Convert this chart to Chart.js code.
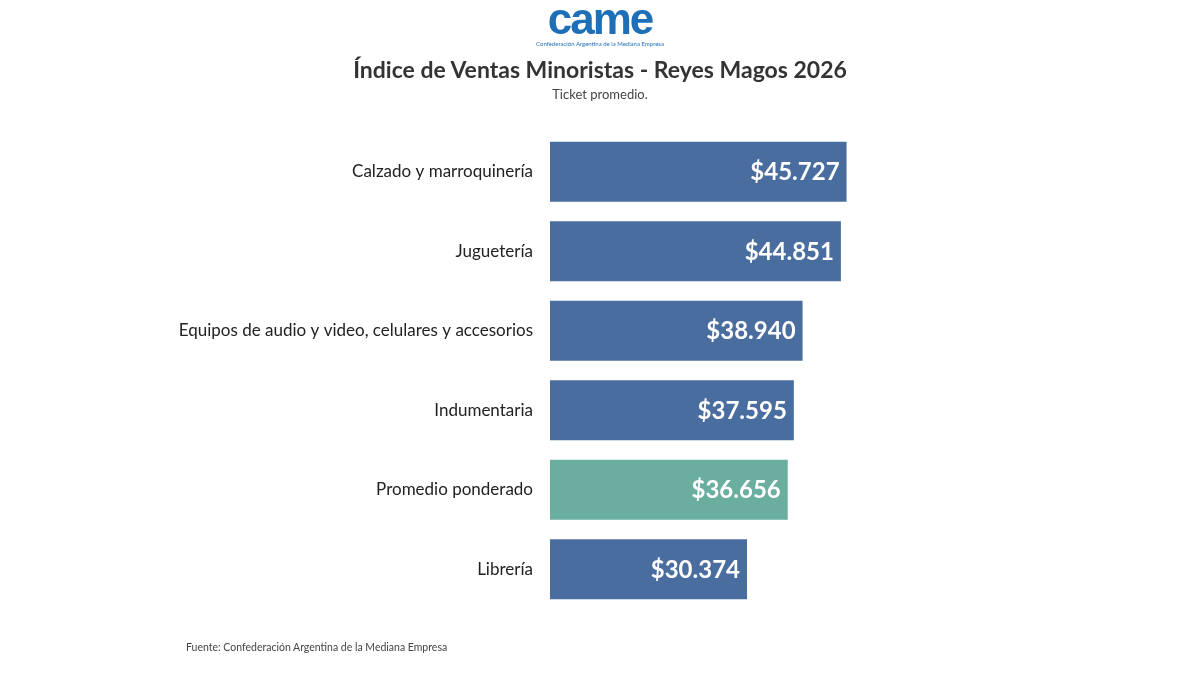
<!DOCTYPE html>
<html><head><meta charset="utf-8">
<script src="https://cdn.jsdelivr.net/npm/chart.js@4"></script>
<style>
body{margin:0;background:#fff;font-family:Lato,sans-serif;}
#wrap{position:relative;width:1200px;height:675px;}
canvas{position:absolute;left:0;top:0;}
.t{position:absolute;left:0;width:1200px;text-align:center;}
</style></head><body>
<div id="wrap">
<canvas id="c" width="1200" height="675"></canvas>
<div class="t" style="top:-6px;font:bold 44px Arial,sans-serif;color:#1d6fb8;letter-spacing:-2px;">came</div>
<div class="t" style="top:40px;font:6px Lato,sans-serif;color:#1d6fb8;">Confederación Argentina de la Mediana Empresa</div>
<div class="t" style="top:55px;font:bold 23px Lato,sans-serif;color:#333;">Índice de Ventas Minoristas - Reyes Magos 2026</div>
<div class="t" style="top:86px;font:13px Lato,sans-serif;color:#444;">Ticket promedio.</div>
<div style="position:absolute;left:186px;top:641px;font:10.5px Lato,sans-serif;color:#444;">Fuente: Confederación Argentina de la Mediana Empresa</div>
</div>
<script>
const categories = ["Calzado y marroquinería","Juguetería","Equipos de audio y video, celulares y accesorios","Indumentaria","Promedio ponderado","Librería"];
const values = [45727,44851,38940,37595,36656,30374];
const valueLabels = ["$45.727","$44.851","$38.940","$37.595","$36.656","$30.374"];
const colors = categories.map(c => c === "Promedio ponderado" ? "#69ae9f" : "#4a6d9f");

const valuePlugin = {
  id: 'vals',
  afterDatasetsDraw(chart) {
    const ctx = chart.ctx;
    ctx.save();
    ctx.font = "bold 24px Lato, sans-serif";
    ctx.fillStyle = "#fff";
    ctx.textAlign = "right";
    ctx.textBaseline = "middle";
    chart.getDatasetMeta(0).data.forEach((bar, i) => {
      ctx.fillText(valueLabels[i], bar.x - 7, bar.y + 1);
    });
    ctx.restore();
  }
};

new Chart(document.getElementById("c"), {
  type: 'bar',
  data: { labels: categories, datasets: [{ data: values, backgroundColor: colors, categoryPercentage: 1, barPercentage: 0.755 }] },
  options: {
    indexAxis: 'y',
    responsive: false,
    animation: false,
    layout: { padding: { top: 132, bottom: 66, right: 196, left: 0 } },
    plugins: { legend: { display: false }, tooltip: { enabled: false } },
    scales: {
      x: { display: false, min: 0, max: 70000 },
      y: {
        grid: { display: false }, border: { display: false },
        ticks: { color: "#222", padding: 9, font: { family: "Lato, sans-serif", size: 17 } },
        afterFit(s) { s.width = 550; }
      }
    }
  },
  plugins: [valuePlugin]
});
</script>
</body></html>
